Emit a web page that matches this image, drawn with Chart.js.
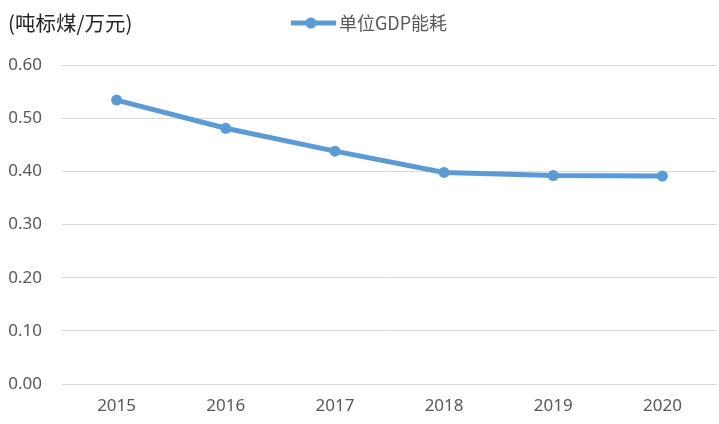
<!DOCTYPE html>
<html>
<head>
<meta charset="utf-8">
<script src="https://cdn.jsdelivr.net/npm/chart.js@4"></script>
<style>
  body { margin: 0; background: #fff; }
  #wrap { position: relative; width: 719px; height: 424px; }
  #unit {
    position: absolute; left: 8px; top: 7px;
    font: 20.5px "Noto Sans CJK SC", sans-serif; color: #262626;
  }
</style>
</head>
<body>
<div id="wrap">
  <canvas id="chart" width="719" height="424"></canvas>
  <div id="unit">(吨标煤/万元)</div>
</div>
<script>
var years = ['2015', '2016', '2017', '2018', '2019', '2020'];
var energy = [0.534, 0.481, 0.438, 0.398, 0.392, 0.391];
var seriesName = '单位GDP能耗';
var yTicks = [0, 0.1, 0.2, 0.3, 0.4, 0.5, 0.6];

var blue = '#5b9bd5';

// legend marker: line with a dot (image is centred on the legend box)
var mark = document.createElement('canvas');
mark.width = 72; mark.height = 14;
var mctx = mark.getContext('2d');
mctx.strokeStyle = blue;
mctx.lineWidth = 5;
mctx.beginPath();
mctx.moveTo(27, 7);
mctx.lineTo(72, 7);
mctx.stroke();
mctx.fillStyle = blue;
mctx.beginPath();
mctx.arc(47, 7, 5.5, 0, Math.PI * 2);
mctx.fill();

// force legend height so plot top sits where it should
var legendHeight = {
    id: 'legendHeight',
    afterInit: function(chart){
        var lg = chart.legend;
        if(!lg) return;
        var fit = lg.fit;
        lg.fit = function(){
            fit.call(this);
            this.height = 65;
        };
    }
};

var ctx = document.getElementById('chart').getContext('2d');
var chart = new Chart(ctx, {
    type: 'line',
    data: {
        labels: years,
        datasets: [{
            label: seriesName,
            data: energy,
            borderColor: blue,
            backgroundColor: blue,
            borderWidth: 5,
            pointRadius: 5.5,
            pointHoverRadius: 5.5,
            pointBackgroundColor: blue,
            pointBorderWidth: 0,
            tension: 0,
            fill: false
        }]
    },
    options: {
        responsive: false,
        animation: false,
        layout: { autoPadding: false, padding: { left: 0, right: 2, top: 0, bottom: 0 } },
        plugins: {
            legend: {
                display: true,
                position: 'top',
                labels: {
                    usePointStyle: true,
                    pointStyle: mark,
                    pointStyleWidth: 60,
                    padding: 14,
                    color: '#595959',
                    font: { size: 18, family: '"Noto Sans CJK SC", sans-serif' }
                }
            },
            tooltip: { enabled: false }
        },
        scales: {
            x: {
                offset: true,
                grid: { display: false, drawTicks: false },
                border: { display: false },
                ticks: {
                    padding: 12,
                    color: '#595959',
                    font: { size: 17, family: '"Noto Sans", sans-serif' }
                },
                afterFit: function(scale){ scale.height = 40; }
            },
            y: {
                min: 0,
                max: 0.6,
                afterBuildTicks: function(scale){
                    scale.ticks = yTicks.map(function(v){ return { value: v }; });
                },
                grid: { color: '#d9d9d9', lineWidth: 1, drawTicks: false },
                border: { display: false },
                ticks: {
                    padding: 20,
                    color: '#595959',
                    font: { size: 17, family: '"Noto Sans", sans-serif' },
                    callback: function(v){ return Number(v).toFixed(2); }
                },
                afterFit: function(scale){ scale.width = 62; }
            }
        }
    },
    plugins: [legendHeight]
});
</script>
</body>
</html>
